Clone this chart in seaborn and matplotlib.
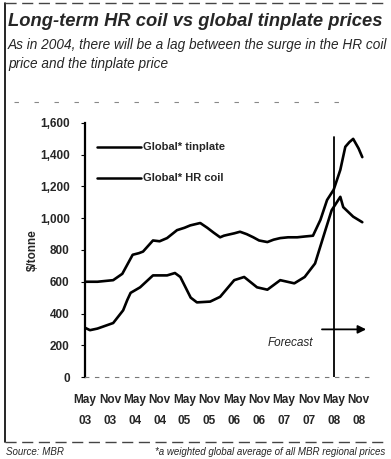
import numpy as np
import pandas as pd
import matplotlib
matplotlib.use("Agg")
import matplotlib.pyplot as plt
import seaborn as sns

# ---- data (month index: 0 = May 03) ----
tin_month = [0, 3, 6.8, 9, 11.5, 13, 14, 16.4, 18, 19.8, 22.2, 24, 25.4, 27, 27.8,
             29.5, 31, 32.6, 33.5, 34.3, 36, 37.4, 39, 40.6, 42, 44, 45.5, 47.1,
             49, 51.2, 53, 55, 56.8, 58.4, 60, 61.6, 62.8, 63.8, 64.7, 66, 66.9]
tin_price = [600, 600, 610, 650, 770, 780, 790, 860, 855, 875, 925, 940, 955, 965, 970,
             940, 910, 880, 890, 895, 905, 915, 900, 880, 860, 850, 865, 875,
             880, 880, 885, 890, 990, 1115, 1180, 1305, 1450, 1480, 1500, 1440, 1385]

hrc_month = [0, 1.2, 3, 6.8, 9.2, 10.2, 11, 13.3, 16.4, 19.8, 21.7, 23, 25.5, 27,
             30.2, 32.6, 36, 38.4, 41.5, 44, 47.1, 50.5, 53, 55.5, 58, 59.5, 61.6,
             62.3, 64.7, 66.9]
hrc_price = [310, 295, 305, 340, 420, 485, 530, 565, 640, 640, 655, 630, 500, 470,
             475, 505, 610, 630, 565, 550, 610, 590, 630, 715, 925, 1050, 1135,
             1070, 1010, 975]

tick_months = list(range(0, 67, 6))
tick_labels = ["May\n03", "Nov\n03", "May\n04", "Nov\n04", "May\n05", "Nov\n05",
               "May\n06", "Nov\n06", "May\n07", "Nov\n07", "May\n08", "Nov\n08"]
y_ticks = [0, 200, 400, 600, 800, 1000, 1200, 1400, 1600]
forecast_month = 60

df = pd.concat([
    pd.DataFrame({"month": tin_month, "price": tin_price, "series": "Global* tinplate"}),
    pd.DataFrame({"month": hrc_month, "price": hrc_price, "series": "Global* HR coil"}),
])

sns.set_style("white")
plt.rcParams["font.family"] = ["Liberation Sans Narrow", "Liberation Sans", "DejaVu Sans"]

fig = plt.figure(figsize=(3.91, 4.59), dpi=100)
ax = fig.add_axes([85 / 391, 82 / 459, 286 / 391, 254 / 459])

sns.lineplot(data=df, x="month", y="price", hue="series",
             palette=["black", "black"], linewidth=1.9, ax=ax, legend=False)

ax.set_xlim(0, 69)
ax.set_ylim(0, 1600)
ax.set_xticks(tick_months)
ax.set_xticklabels(tick_labels, fontsize=8.5, fontweight="bold", linespacing=2.0)
ax.set_yticks(y_ticks)
ax.set_yticklabels([f"{v:,}" for v in y_ticks], fontsize=8.5, fontweight="bold")
ax.tick_params(axis="y", length=3, width=0.8, color="black", pad=8, left=True)
ax.tick_params(axis="x", length=0, pad=12)
ax.set_xlabel("")
ax.set_ylabel("$/tonne", fontsize=8.5, fontweight="bold", labelpad=1)

for s in ["top", "right"]:
    ax.spines[s].set_visible(False)
ax.spines["left"].set_linewidth(1.6)
ax.spines["left"].set_color("black")
ax.spines["bottom"].set_color("#777777")
ax.spines["bottom"].set_linewidth(0.8)
ax.spines["bottom"].set_linestyle((0, (3, 6)))

# forecast marker
ax.axvline(forecast_month, ymin=0, ymax=0.945, color="black", lw=1.3)
ax.annotate("", xy=(68.5, 300), xytext=(56.5, 300),
            arrowprops=dict(arrowstyle="-|>", color="black", lw=1.3, mutation_scale=12))
ax.text(55, 215, "Forecast", fontsize=8.5, ha="right", va="center", style="italic")

# legend drawn by hand in the upper-left
for yy, lab in [(1450, "Global* tinplate"), (1255, "Global* HR coil")]:
    ax.plot([3, 13.5], [yy, yy], color="black", lw=1.8)
    ax.text(14, yy, lab, fontsize=8, va="center", fontweight="bold")

# titles
fig.text(8 / 391, 1 - 22 / 459, "Long-term HR coil vs global tinplate prices",
         fontsize=13.2, fontweight="bold", style="italic", va="center", ha="left")
fig.text(8 / 391, 1 - 45 / 459,
         "As in 2004, there will be a lag between the surge in the HR coil",
         fontsize=9.8, style="italic", va="center", ha="left")
fig.text(8 / 391, 1 - 64 / 459, "price and the tinplate price",
         fontsize=9.8, style="italic", va="center", ha="left")
fig.text(6 / 391, 1 - 452 / 459, "Source: MBR", fontsize=7, style="italic",
         va="center", ha="left")
fig.text(385 / 391, 1 - 452 / 459,
         "*a weighted global average of all MBR regional prices",
         fontsize=7, style="italic", va="center", ha="right")

# frame around the graphic
fig.add_artist(plt.Line2D([5 / 391, 5 / 391], [1 - 3 / 459, 1 - 442 / 459],
                          transform=fig.transFigure, color="black", lw=1.2))
fig.add_artist(plt.Line2D([5 / 391, 386 / 391], [1 - 442 / 459, 1 - 442 / 459],
                          transform=fig.transFigure, color="#444444", lw=1.0,
                          linestyle=(0, (8, 4))))
fig.add_artist(plt.Line2D([5 / 391, 386 / 391], [1 - 3 / 459, 1 - 3 / 459],
                          transform=fig.transFigure, color="#444444", lw=1.0,
                          linestyle=(0, (8, 4))))
fig.add_artist(plt.Line2D([14 / 391, 340 / 391], [1 - 102 / 459, 1 - 102 / 459],
                          transform=fig.transFigure, color="#888888", lw=0.8,
                          linestyle=(0, (4, 14))))

fig.savefig("out.png", dpi=100)
